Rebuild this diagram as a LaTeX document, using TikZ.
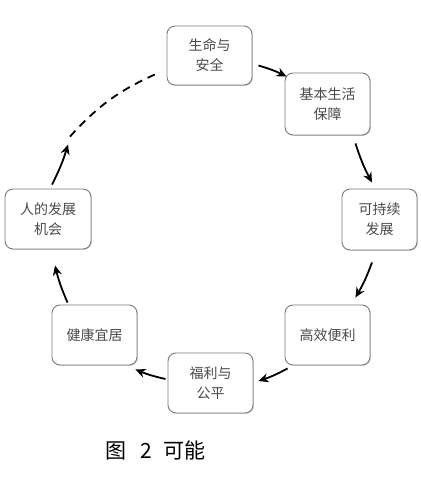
\documentclass[tikz,border=0pt]{standalone}
\usepackage{fontspec}
\setmainfont{Noto Sans CJK SC}
\usetikzlibrary{arrows.meta,shadows}
\definecolor{boxline}{HTML}{7A7A7A}
\definecolor{boxtext}{HTML}{4A4A4A}
\tikzset{
  stagebox/.style={draw=boxline, line width=0.9pt, rounded corners=8pt, fill=white,
    drop shadow={shadow xshift=0.8pt, shadow yshift=-0.8pt, fill=black!35, opacity=0.6},
    align=center, text=boxtext, font=\fontsize{14}{20}\selectfont, inner sep=0pt},
  arr/.style={line width=1.8pt, -{Stealth[length=10pt,width=9pt]}},
  dsh/.style={line width=1.8pt, dash pattern=on 8pt off 6pt}
}
\begin{document}
\begin{tikzpicture}[x=1pt,y=-1pt]
\useasboundingbox (0,0) rectangle (420,478);
\node[stagebox, minimum width=85pt, minimum height=59pt] (A) at (209.5,55.5) {生命与\\安全};
\node[stagebox, minimum width=85pt, minimum height=62pt] (B) at (327.5,104) {基本生活\\保障};
\node[stagebox, minimum width=75pt, minimum height=61pt] (C) at (379.5,219.5) {可持续\\发展};
\node[stagebox, minimum width=85pt, minimum height=60pt] (D) at (327.5,335) {高效便利};
\node[stagebox, minimum width=85pt, minimum height=60pt] (E) at (210.5,383) {福利与\\公平};
\node[stagebox, minimum width=85pt, minimum height=60pt] (F) at (94.5,335) {健康宜居};
\node[stagebox, minimum width=86pt, minimum height=60pt] (G) at (48,219) {人的发展\\机会};
\draw[arr] ([shift={(6,10)}]A.east) to[bend left=5] ([shift={(2,4)}]B.north west);
\draw[arr] ([shift={(-15,8)}]B.south east) to[bend right=5] ([shift={(-7.5,-6)}]C.north);
\draw[arr] ([shift={(-7.5,12)}]C.south) to[bend left=5] ([shift={(-15,-7)}]D.north east);
\draw[arr] ([shift={(3,3)}]D.south west) to[bend left=5] ([shift={(5,-2)}]E.east);
\draw[arr] ([shift={(-2,-4)}]E.west) to[bend left=5] ([shift={(-2,4)}]F.south east);
\draw[arr] ([shift={(16,-2)}]F.north west) to[bend left=5] ([shift={(7,16)}]G.south);
\coordinate (Gtop) at ([shift={(20,-44)}]G.north);
\draw[arr] ([shift={(4,-4)}]G.north) to[bend right=5] (Gtop);
\draw[dsh] ([shift={(2,-8)}]Gtop) to[bend left=12] ([shift={(-7,-13)}]A.south west);
\node[anchor=west, font=\fontsize{21}{24}\selectfont, text=black, inner sep=0pt] (cap) at (105,450) {图\hspace{14pt}2\hspace{12pt}可能};
\end{tikzpicture}
\end{document}
